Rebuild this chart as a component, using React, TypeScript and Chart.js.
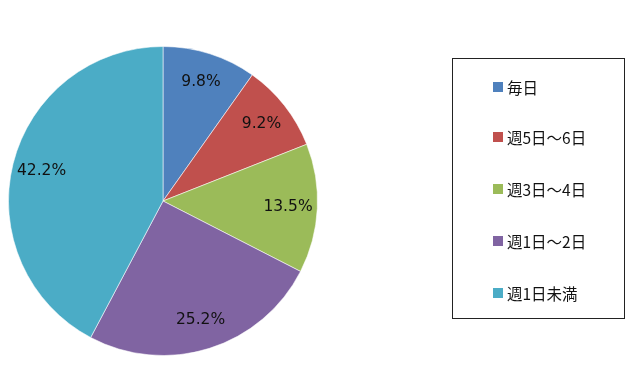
import React, { useEffect, useRef } from "react";
import { Chart, registerables } from "chart.js";

Chart.register(...registerables);

const categories = ["毎日", "週5日～6日", "週3日～4日", "週1日～2日", "週1日未満"];
const values = [9.8, 9.2, 13.5, 25.2, 42.2];
const colors = ["#4F81BD", "#C0504D", "#9BBB59", "#8064A2", "#4BACC6"];

const labelPlugin = {
  id: "sliceLabels",
  afterDatasetsDraw(chart: any) {
    const ctx = chart.ctx;
    const meta = chart.getDatasetMeta(0);
    ctx.save();
    ctx.font = '15.5px "DejaVu Sans", sans-serif';
    ctx.fillStyle = "#111";
    ctx.textAlign = "center";
    ctx.textBaseline = "middle";
    meta.data.forEach((arc: any, i: number) => {
      const p = arc.getProps(["x", "y", "startAngle", "endAngle", "outerRadius"], true);
      const mid = (p.startAngle + p.endAngle) / 2;
      const r = p.outerRadius * 0.81;
      ctx.fillText(values[i].toFixed(1) + "%", p.x + Math.cos(mid) * r, p.y + Math.sin(mid) * r);
    });
    ctx.restore();
  },
};

export default function App() {
  const ref = useRef<HTMLCanvasElement>(null);
  useEffect(() => {
    const chart = new Chart(ref.current!, {
      type: "pie",
      data: {
        labels: categories,
        datasets: [
          {
            data: values,
            backgroundColor: colors,
            borderColor: "rgba(255,255,255,0.55)",
            borderWidth: 1,
          },
        ],
      },
      options: {
        animation: false,
        responsive: false,
        maintainAspectRatio: false,
        layout: { padding: { top: 46, bottom: 35, left: 8, right: 322 } },
        plugins: { legend: { display: false }, tooltip: { enabled: false } },
      },
      plugins: [labelPlugin],
    });
    return () => chart.destroy();
  }, []);

  return (
    <div style={{ position: "fixed", left: 0, top: 0, width: 640, height: 391, background: "#fff" }}>
      <canvas ref={ref} width={640} height={391} style={{ position: "absolute", left: 0, top: 0 }} />
      <div
        style={{
          position: "absolute",
          left: 452,
          top: 58,
          width: 173,
          height: 261,
          border: "1px solid #222",
          boxSizing: "border-box",
        }}
      />
      {categories.map((c, i) => {
        const cy = [87, 137, 189, 241, 293][i];
        return (
          <div key={c}>
            <div
              style={{
                position: "absolute",
                left: 493,
                top: cy - 5,
                width: 10,
                height: 10,
                background: colors[i],
              }}
            />
            <div
              style={{
                position: "absolute",
                left: 507,
                top: cy - 11,
                height: 22,
                lineHeight: "22px",
                fontFamily: '"Noto Sans CJK JP", sans-serif',
                fontSize: 15.5,
                color: "#111",
                whiteSpace: "nowrap",
              }}
            >
              {c}
            </div>
          </div>
        );
      })}
    </div>
  );
}
